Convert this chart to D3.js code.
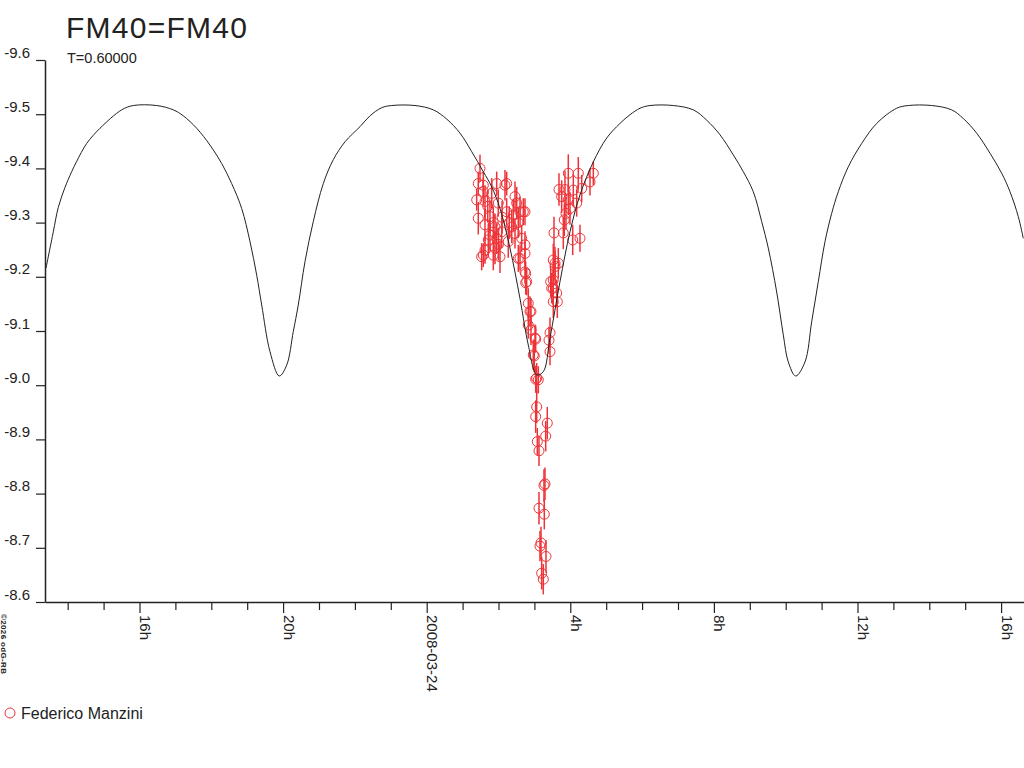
<!DOCTYPE html>
<html>
<head>
<meta charset="utf-8">
<script src="https://cdn.jsdelivr.net/npm/d3@7"></script>
<style>
  body { margin: 0; background: #fff; }
  svg { display: block; font-family: "Liberation Sans", Arial, sans-serif; }
</style>
</head>
<body>
<div class="chart"></div>
<script>
// hours are counted from 2008-03-24 00:00 UT
var observer = "Federico Manzini";
var starName = "FM40=FM40";
var periodLabel = "T=0.60000";

var obsHours = [1.485, 1.437, 1.577, 1.950, 2.228, 1.577, 1.811, 1.393, 1.624, 1.994,
  2.460, 2.507, 2.738, 1.437, 1.763, 2.228, 2.412, 1.624, 1.903, 2.368,
  1.763, 2.089, 2.460, 2.646, 1.716, 1.950, 2.273, 1.624, 1.903, 2.738,
  1.532, 2.042, 2.552, 2.738, 1.577, 1.855, 2.181, 2.691, 2.599, 1.855,
  2.100, 2.300, 2.550, 2.000, 1.700, 2.600,
  2.738, 2.758, 2.786, 2.758, 2.830, 2.905, 2.877, 2.830, 2.905, 3.036,
  3.017, 2.997, 2.969, 3.036, 3.109, 3.064, 3.064, 3.036, 3.359, 3.315,
  3.081, 3.128, 3.295, 3.267, 3.128, 3.276, 3.184, 3.156, 3.323, 3.203, 3.248,
  3.407, 3.435, 3.435, 3.574, 3.526, 3.482, 3.621, 3.526, 3.454, 3.526,
  3.638, 3.526, 3.666, 3.574, 3.546, 3.805, 4.067, 4.270, 3.833, 3.880,
  3.992, 3.944, 4.178, 3.760, 3.685, 3.852, 4.084, 4.318, 3.944, 4.223,
  4.641, 4.549];

var obsMag = [-9.400, -9.372, -9.369, -9.372, -9.372, -9.357, -9.354, -9.342, -9.339, -9.336,
  -9.348, -9.336, -9.320, -9.308, -9.311, -9.320, -9.314, -9.296, -9.292, -9.292,
  -9.277, -9.283, -9.280, -9.271, -9.268, -9.271, -9.265, -9.249, -9.253, -9.259,
  -9.237, -9.237, -9.234, -9.243, -9.240, -9.240, -9.369, -9.320, -9.234, -9.300,
  -9.310, -9.300, -9.300, -9.260, -9.330, -9.320,
  -9.209, -9.206, -9.191, -9.189, -9.151, -9.136, -9.136, -9.111, -9.102, -9.085,
  -9.087, -9.054, -9.056, -9.011, -9.010, -9.013, -8.960, -8.942, -8.930, -8.906,
  -8.896, -8.879, -8.818, -8.815, -8.773, -8.762, -8.709, -8.703, -8.684, -8.653, -8.642,
  -9.083, -9.097, -9.062, -9.225, -9.194, -9.179, -9.170, -9.154, -9.191, -9.179,
  -9.154, -9.231, -9.225, -9.219, -9.281, -9.281, -9.268, -9.271, -9.305, -9.317,
  -9.326, -9.342, -9.336, -9.348, -9.361, -9.361, -9.360, -9.363, -9.391, -9.391,
  -9.391, -9.375];

var obsErr = [0.025, 0.022, 0.025, 0.022, 0.022, 0.025, 0.028, 0.020, 0.030, 0.025,
  0.028, 0.030, 0.025, 0.030, 0.030, 0.025, 0.030, 0.030, 0.025, 0.030,
  0.028, 0.030, 0.028, 0.025, 0.030, 0.028, 0.030, 0.025, 0.030, 0.025,
  0.025, 0.030, 0.025, 0.022, 0.022, 0.028, 0.028, 0.025, 0.022, 0.030,
  0.030, 0.030, 0.028, 0.030, 0.030, 0.028,
  0.022, 0.022, 0.025, 0.022, 0.028, 0.025, 0.028, 0.025, 0.028, 0.025,
  0.025, 0.030, 0.028, 0.025, 0.025, 0.028, 0.030, 0.030, 0.030, 0.028,
  0.025, 0.028, 0.030, 0.030, 0.030, 0.028, 0.030, 0.028, 0.030, 0.030, 0.028,
  0.025, 0.028, 0.025, 0.030, 0.030, 0.028, 0.025, 0.030, 0.028, 0.030,
  0.030, 0.030, 0.028, 0.030, 0.030, 0.030, 0.028, 0.025, 0.030, 0.030,
  0.030, 0.028, 0.025, 0.030, 0.030, 0.035, 0.030, 0.025, 0.035, 0.030,
  0.022, 0.025];

// model light curve
var modelHours = [-10.604, -10.401, -10.262, -10.075, -9.889, -9.749, -9.471, -9.100, -8.496, -8.173,
  -7.521, -7.058, -6.780, -6.407, -6.036, -5.710, -5.432, -5.153, -4.922, -4.735,
  -4.596, -4.365, -4.106, -3.900, -3.716, -3.577, -3.390, -3.159, -2.880, -2.602,
  -2.276, -1.858, -1.579, -1.253, -0.975, -0.326, 0.184, 0.557, 0.928, 1.253,
  1.577, 1.811, 2.042, 2.320, 2.599, 2.830, 3.064, 3.248, 3.435, 3.713,
  3.992, 4.270, 4.641, 5.014, 5.384, 5.663, 5.942, 6.220, 6.869, 7.426,
  7.799, 8.170, 8.540, 8.819, 9.097, 9.331, 9.515, 9.749, 9.933, 10.072,
  10.279, 10.538, 10.724, 10.908, 11.095, 11.281, 11.465, 11.744, 12.117, 12.535,
  13.092, 13.415, 14.067, 14.624, 14.947, 15.320, 15.691, 16.017, 16.248, 16.479, 16.618];

var modelMag = [-9.216, -9.283, -9.328, -9.365, -9.394, -9.413, -9.446, -9.474, -9.508, -9.516,
  -9.516, -9.508, -9.497, -9.474, -9.443, -9.409, -9.372, -9.326, -9.265, -9.203,
  -9.148, -9.062, -9.017, -9.037, -9.099, -9.148, -9.228, -9.302, -9.372, -9.416,
  -9.449, -9.477, -9.497, -9.512, -9.516, -9.516, -9.508, -9.491, -9.465, -9.431,
  -9.394, -9.366, -9.326, -9.253, -9.160, -9.074, -9.019, -9.025, -9.087, -9.191,
  -9.283, -9.351, -9.412, -9.456, -9.483, -9.499, -9.511, -9.516, -9.516, -9.508,
  -9.489, -9.462, -9.425, -9.394, -9.357, -9.302, -9.253, -9.172, -9.093, -9.043,
  -9.017, -9.043, -9.117, -9.191, -9.265, -9.317, -9.357, -9.403, -9.446, -9.483,
  -9.511, -9.516, -9.516, -9.508, -9.492, -9.465, -9.428, -9.391, -9.357, -9.311, -9.271];

var yTicks = [-9.6, -9.5, -9.4, -9.3, -9.2, -9.1, -9.0, -8.9, -8.8, -8.7, -8.6];
var timeStart = -10.632, timeEnd = 16.638;

var svgWidth = 1024;
var svgHeight = 768;
var red = "#ee3338";
var ink = "#222";

var svg = d3.select(".chart")
  .append("svg")
  .attr("width", svgWidth)
  .attr("height", svgHeight);

var base = Date.UTC(2008, 2, 24);
function toDate(h) { return new Date(base + h * 3600000); }

var xScale = d3.scaleUtc()
  .domain([toDate(timeStart), toDate(timeEnd)])
  .range([45, 1024]);

var yScale = d3.scaleLinear()
  .domain([-9.6, -8.6])
  .range([60, 602]);

// x axis: hourly ticks, labels every 4h
var hourTicks = xScale.ticks(d3.utcHour.every(1));
var bottomAxis = d3.axisBottom(xScale)
  .tickValues(hourTicks)
  .tickSize(8)
  .tickSizeOuter(0)
  .tickFormat(function(d) {
    var hr = d.getUTCHours();
    if (hr === 0) return d3.utcFormat("%Y-%m-%d")(d);
    if (hr % 4 === 0) return hr + "h";
    return "";
  });

var xAxisG = svg.append("g")
  .attr("transform", "translate(0,602)")
  .call(bottomAxis);

xAxisG.select(".domain").attr("stroke", ink).attr("stroke-width", 1.5);
xAxisG.selectAll(".tick line")
  .attr("stroke", ink)
  .attr("stroke-width", 1.2)
  .attr("y2", function(d) { return d.getUTCHours() % 4 === 0 ? 11 : 8; });
xAxisG.selectAll(".tick text")
  .attr("x", 0)
  .attr("y", 0)
  .attr("dy", 0)
  .attr("transform", "translate(0,13) rotate(90)")
  .style("text-anchor", "start")
  .style("font-size", "15px")
  .attr("fill", ink);

// y axis
var leftAxis = d3.axisLeft(yScale)
  .tickValues(yTicks)
  .tickSize(9)
  .tickSizeOuter(0)
  .tickFormat(function(d) { return d.toFixed(1); });

var yAxisG = svg.append("g")
  .attr("transform", "translate(45,0)")
  .call(leftAxis);

yAxisG.select(".domain").attr("stroke", ink).attr("stroke-width", 1.5);
yAxisG.selectAll(".tick line").attr("stroke", ink).attr("stroke-width", 1.2);
yAxisG.selectAll(".tick text")
  .attr("x", -15)
  .attr("dy", -3)
  .style("font-size", "15px")
  .attr("fill", ink);

// observations
var obs = obsHours.map(function(h, i) {
  return { t: toDate(h), mag: obsMag[i], err: obsErr[i] };
});

var plot = svg.append("g");

plot.selectAll(".errbar")
  .data(obs)
  .enter()
  .append("line")
  .attr("class", "errbar")
  .attr("x1", d => xScale(d.t))
  .attr("x2", d => xScale(d.t))
  .attr("y1", d => yScale(d.mag - d.err))
  .attr("y2", d => yScale(d.mag + d.err))
  .attr("stroke", red)
  .attr("stroke-width", 1.5);

plot.selectAll(".obs")
  .data(obs)
  .enter()
  .append("circle")
  .attr("class", "obs")
  .attr("cx", d => xScale(d.t))
  .attr("cy", d => yScale(d.mag))
  .attr("r", 5)
  .attr("fill", "none")
  .attr("stroke", red)
  .attr("stroke-width", 1);

// model curve on top
var model = modelHours.map(function(h, i) { return { t: toDate(h), mag: modelMag[i] }; });
var line = d3.line()
  .x(d => xScale(d.t))
  .y(d => yScale(d.mag))
  .curve(d3.curveCatmullRom.alpha(0.5));

svg.append("path")
  .datum(model)
  .attr("d", line)
  .attr("fill", "none")
  .attr("stroke", ink)
  .attr("stroke-width", 1);

// titles
svg.append("text")
  .attr("x", 66)
  .attr("y", 38)
  .attr("textLength", 181)
  .style("font-size", "30px")
  .attr("fill", ink)
  .text(starName);

svg.append("text")
  .attr("x", 67)
  .attr("y", 63)
  .style("font-size", "14.5px")
  .attr("fill", ink)
  .text(periodLabel);

// legend
svg.append("circle")
  .attr("cx", 10)
  .attr("cy", 713)
  .attr("r", 5)
  .attr("fill", "none")
  .attr("stroke", red)
  .attr("stroke-width", 1);

svg.append("text")
  .attr("x", 21)
  .attr("y", 719)
  .style("font-size", "16px")
  .attr("fill", ink)
  .text(observer);

// copyright, vertical
svg.append("text")
  .attr("transform", "translate(1,614) rotate(90)")
  .style("font-size", "8px")
  .style("font-weight", "bold")
  .attr("textLength", 60)
  .attr("fill", ink)
  .text("\u00a92026 odG-RB");
</script>
</body>
</html>
